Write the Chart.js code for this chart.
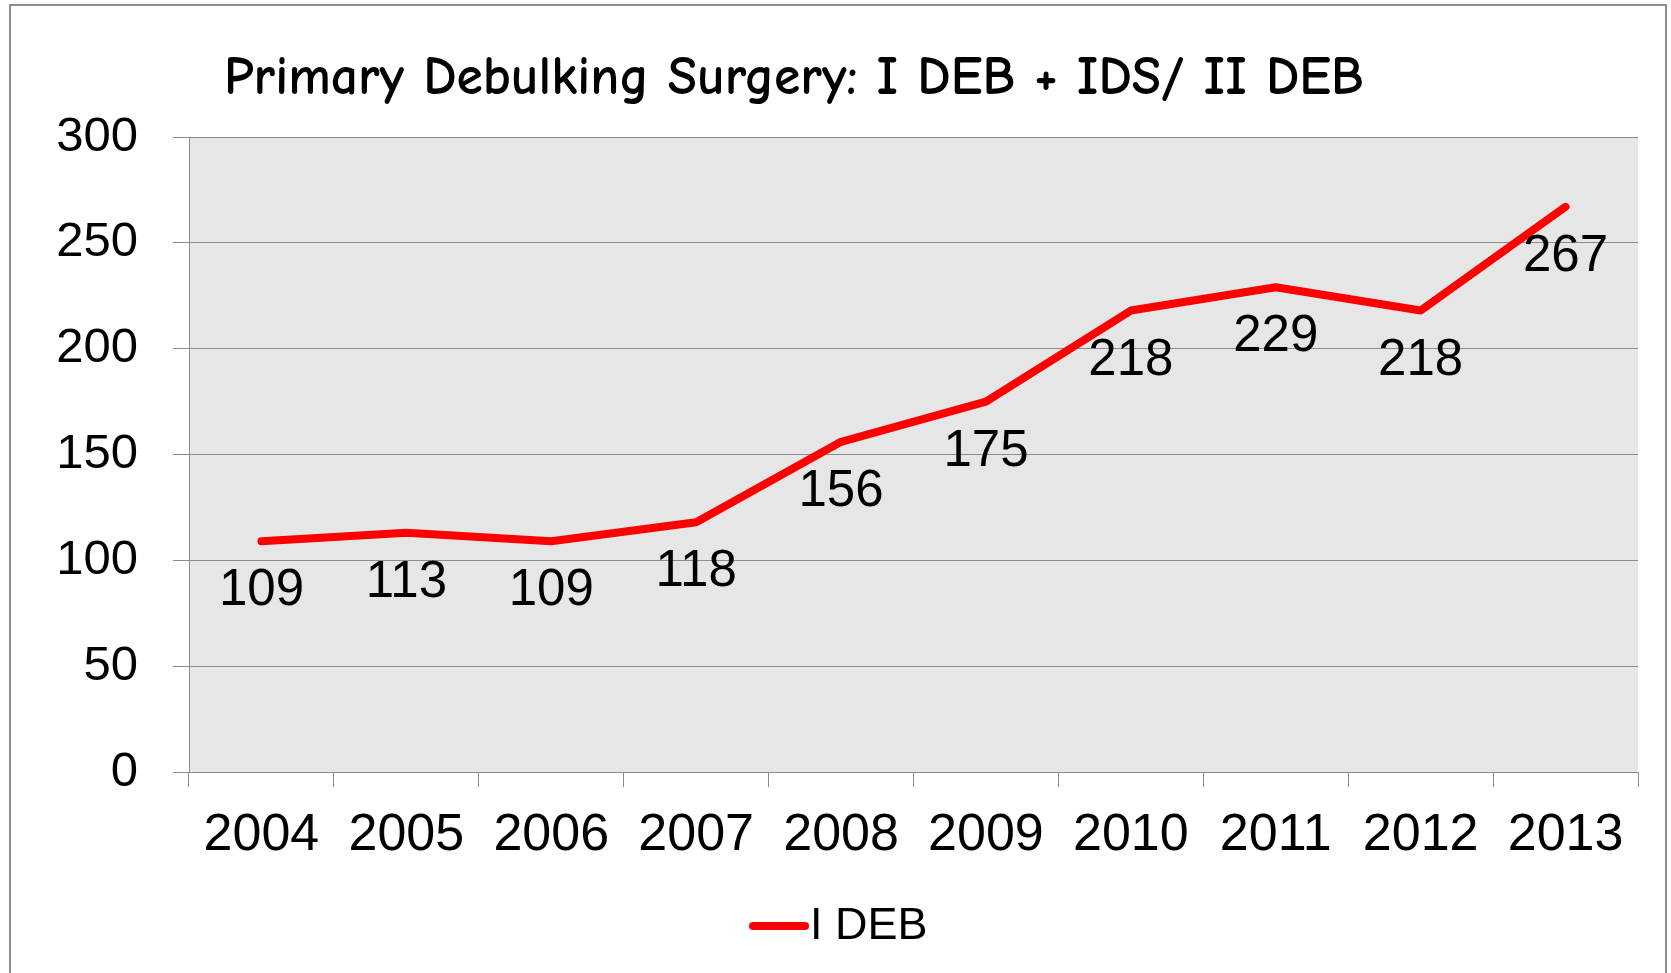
<!DOCTYPE html>
<html>
<head>
<meta charset="utf-8">
<title>Primary Debulking Surgery</title>
<script src="https://cdn.jsdelivr.net/npm/chart.js@4.4.0/dist/chart.umd.min.js"></script>
<style>
  html, body { margin: 0; padding: 0; background: #fff; overflow: hidden; }
  #wrap { position: relative; width: 1671px; height: 973px; }
  #frame { position: absolute; left: 9px; top: 4px; width: 1654px; height: 1000px; border: 2px solid #8c8c8c; pointer-events: none; }
  canvas { position: absolute; left: 0; top: 0; }
</style>
</head>
<body>
<div id="wrap">
  <canvas id="myChart" width="1671" height="973"></canvas>
  <div id="frame"></div>
</div>
<script>
// chart values
const chartTitle = "Primary Debulking Surgery: I DEB + IDS/ II DEB";
const years = ["2004", "2005", "2006", "2007", "2008", "2009", "2010", "2011", "2012", "2013"];
const seriesName = "I DEB";
const iDeb = [109, 113, 109, 118, 156, 175, 218, 229, 218, 267];
const yMin = 0;
const yMax = 300;
const yStep = 50;

const gridGrey = "#8c8c8c";
const labelFont = "'Liberation Sans', Arial, sans-serif";

// grey plot background
const plotBg = {
  id: "plotBg",
  beforeDraw(chart) {
    const { ctx, chartArea: a } = chart;
    ctx.save();
    ctx.fillStyle = "#e6e6e6";
    ctx.fillRect(a.left, a.top, a.right - a.left, a.bottom - a.top);
    ctx.restore();
  },
};

// title in comic style, left of centre like the original slide
const slideTitle = {
  id: "slideTitle",
  afterDraw(chart) {
    const ctx = chart.ctx;
    ctx.save();
    const fam = "'Comic Sans MS', 'Comic Neue', 'DejaVu Sans Condensed', 'DejaVu Sans', sans-serif";
    ctx.font = "bold 100px " + fam;
    const w100 = ctx.measureText(chartTitle).width;
    const size = Math.min(58, (1140 / w100) * 100);
    ctx.font = "bold " + size + "px " + fam;
    ctx.fillStyle = "#000";
    ctx.textAlign = "left";
    ctx.textBaseline = "alphabetic";
    ctx.fillText(chartTitle, 224, 94);
    ctx.restore();
  },
};

// value labels under each point
const valueLabels = {
  id: "valueLabels",
  afterDatasetsDraw(chart) {
    const ctx = chart.ctx;
    const meta = chart.getDatasetMeta(0);
    ctx.save();
    ctx.font = "51px " + labelFont;
    ctx.fillStyle = "#000";
    ctx.textAlign = "center";
    ctx.textBaseline = "middle";
    meta.data.forEach((pt, i) => {
      ctx.fillText(String(chart.data.datasets[0].data[i]), pt.x, pt.y + 50);
    });
    ctx.restore();
  },
};

// legend drawn like the slide: short line with the name right next to it
const slideLegend = {
  id: "slideLegend",
  afterDraw(chart) {
    const ctx = chart.ctx;
    const ds = chart.data.datasets[0];
    const y = 926;
    ctx.save();
    ctx.strokeStyle = ds.borderColor;
    ctx.lineWidth = ds.borderWidth;
    ctx.lineCap = "round";
    ctx.beginPath();
    ctx.moveTo(753, y);
    ctx.lineTo(805, y);
    ctx.stroke();
    ctx.font = "45px " + labelFont;
    ctx.fillStyle = "#000";
    ctx.textAlign = "left";
    ctx.textBaseline = "middle";
    ctx.fillText(ds.label, 810, y + 1);
    ctx.restore();
  },
};

const data = {
  labels: years,
  datasets: [
    {
      label: seriesName,
      data: iDeb,
      borderColor: "#ff0000",
      backgroundColor: "#ff0000",
      borderWidth: 8,
      borderCapStyle: "round",
      borderJoinStyle: "round",
      pointRadius: 0,
      pointHoverRadius: 0,
      tension: 0,
      fill: false,
    },
  ],
};

const config = {
  type: "line",
  data,
  options: {
    responsive: false,
    animation: false,
    devicePixelRatio: 1,
    layout: { padding: { top: 137, right: 33, bottom: 84, left: 0 } },
    plugins: {
      title: { display: false },
      tooltip: { enabled: false },
      legend: { display: false },
    },
    scales: {
      x: {
        offset: true,
        afterFit(scale) { scale.height = 117; },
        grid: {
          offset: true,
          drawOnChartArea: false,
          drawTicks: true,
          tickLength: 15,
          color: gridGrey,
          lineWidth: 1,
        },
        border: { display: true, color: gridGrey, width: 1 },
        ticks: {
          color: "#000",
          padding: 17,
          maxRotation: 0,
          autoSkip: false,
          font: { family: labelFont, size: 52 },
        },
      },
      y: {
        min: yMin,
        max: yMax,
        afterFit(scale) { scale.width = 189; },
        grid: {
          color: gridGrey,
          lineWidth: 1,
          tickLength: 16,
        },
        border: { display: true, color: gridGrey, width: 1 },
        ticks: {
          stepSize: yStep,
          color: "#000",
          padding: 35,
          font: { family: labelFont, size: 49 },
        },
      },
    },
  },
  plugins: [plotBg, valueLabels, slideTitle, slideLegend],
};

const myChart = new Chart(document.getElementById("myChart"), config);
</script>
</body>
</html>
